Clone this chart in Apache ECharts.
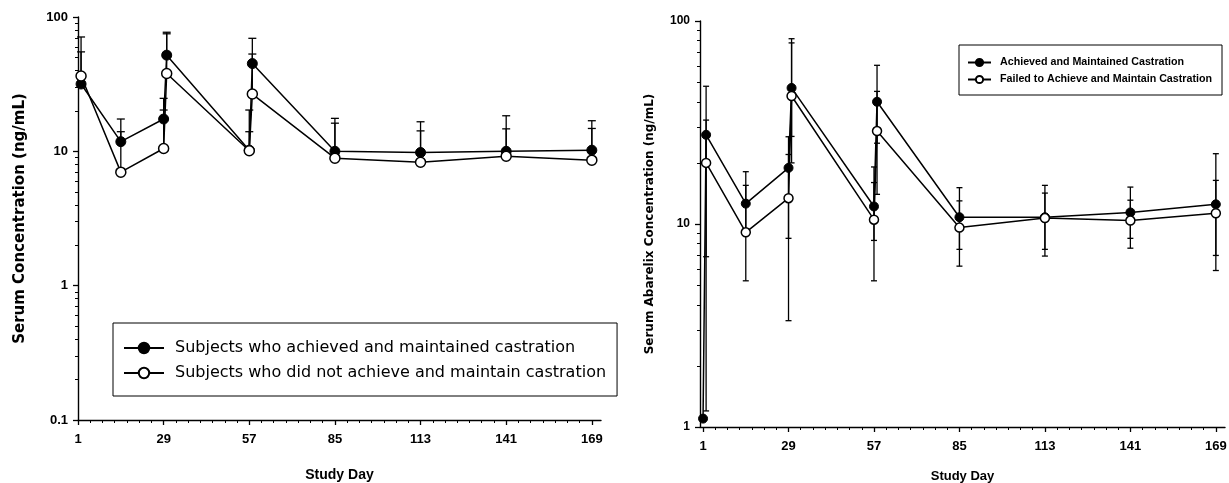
<!DOCTYPE html>
<html>
<head>
<meta charset="utf-8">
<script src="https://cdn.jsdelivr.net/npm/echarts@6/dist/echarts.min.js"></script>
<style>
  html, body { margin: 0; padding: 0; background: #fff; }
  #main { width: 1229px; height: 483px; }
</style>
</head>
<body>
<div id="main"></div>
<script>
// ---- left panel: serum concentration ----
var leftNames = ['Subjects who achieved and maintained castration',
                 'Subjects who did not achieve and maintain castration'];
var leftDays = [2, 15, 29, 30, 57, 58, 85, 113, 141, 169];
var leftAchieved = [31.7, 11.8, 17.4, 52, 10.2, 45, 10.0, 9.8, 10.0, 10.2];
var leftFailed = [36.4, 7.0, 10.5, 38, 10.1, 26.7, 8.9, 8.3, 9.2, 8.6];
var leftAchievedUp = [71, 17.4, 24.8, 77, 20.3, 69.4, 17.6, 16.6, 18.4, 16.9];
var leftFailedUp = [55, 14.0, 20.3, 75, 14.0, 53, 16.2, 14.2, 14.7, 14.8];

// ---- right panel: serum abarelix concentration ----
var rightNames = ['Achieved and Maintained Castration',
                  'Failed to Achieve and Maintain Castration'];
var rightDaysA = [1, 2, 15, 29, 30, 57, 58, 85, 113, 141, 169];
var rightAchieved = [1.1, 27.5, 12.6, 18.9, 46.8, 12.2, 40, 10.8, 10.8, 11.4, 12.5];
var rightAchievedLo = [1.1, 1.2, 8.8, 8.5, 27, 8.3, 25, 7.5, 7.5, 8.5, 7.0];
var rightAchievedUp = [1.1, 47.7, 18.1, 26.9, 81.8, 19.1, 60.5, 15.1, 15.5, 15.2, 22.2];
var rightDaysF = [2, 15, 29, 30, 57, 58, 85, 113, 141, 169];
var rightFailed = [20, 9.1, 13.4, 42.7, 10.5, 28.7, 9.6, 10.7, 10.4, 11.3];
var rightFailedLo = [6.9, 5.25, 3.34, 20, 5.25, 14, 6.2, 6.95, 7.6, 5.9];
var rightFailedUp = [32.5, 15.5, 22, 78, 16, 45, 13, 14.2, 13.1, 16.4];

// ---- axis ticks ----
var dayTicks = [1, 29, 57, 85, 113, 141, 169];
var leftYTicks = [0.1, 1, 10, 100];
var rightYTicks = [1, 10, 100];

function minorDays(start, end) {
    var arr = [];
    for (var d = start; d <= end; d += 4) arr.push(d);
    return arr;
}
function minorLog(lo, hi) {
    var arr = [];
    for (var p = lo; p < hi; p *= 10) {
        for (var k = 2; k <= 9; k++) arr.push(+(k * p).toPrecision(3));
    }
    return arr;
}

var font = 'Liberation Sans, Arial, sans-serif';
var wideFont = 'DejaVu Sans, Verdana, sans-serif';

function pairs(xs, ys) {
    return xs.map(function (x, i) { return [x, ys[i]]; });
}
function bars(xs, lo, hi) {
    return xs.map(function (x, i) { return [x, lo[i], hi[i]]; });
}

function errBar(capW, lowCap) {
    return function (params, api) {
        var x = api.value(0);
        var pLo = api.coord([x, api.value(1)]);
        var pHi = api.coord([x, api.value(2)]);
        var st = { stroke: '#000', lineWidth: 1.3 };
        var kids = [
            { type: 'line', shape: { x1: pHi[0], y1: pHi[1], x2: pLo[0], y2: pLo[1] }, style: st },
            { type: 'line', shape: { x1: pHi[0] - capW, y1: pHi[1], x2: pHi[0] + capW, y2: pHi[1] }, style: st }
        ];
        if (lowCap) {
            kids.push({ type: 'line', shape: { x1: pLo[0] - capW, y1: pLo[1], x2: pLo[0] + capW, y2: pLo[1] }, style: st });
        }
        return { type: 'group', children: kids };
    };
}

function xAxisMajor(grid, min, max, margin, name, gap, nameSize, lblSize) {
    return {
        type: 'value', gridIndex: grid, min: min, max: max,
        name: name, nameLocation: 'middle', nameGap: gap,
        nameTextStyle: { fontFamily: font, fontWeight: 'bold', fontSize: nameSize, color: '#000' },
        axisLine: { show: true, onZero: false, lineStyle: { color: '#000', width: 1.4 } },
        axisTick: { show: true, length: 5, customValues: dayTicks, lineStyle: { color: '#000', width: 1.3 } },
        axisLabel: { customValues: dayTicks, margin: margin, fontFamily: font, fontWeight: 'bold', fontSize: lblSize, color: '#000' },
        splitLine: { show: false }
    };
}
function xAxisMinor(grid, min, max, start) {
    return {
        type: 'value', gridIndex: grid, min: min, max: max, position: 'bottom',
        axisLine: { show: false },
        axisTick: { show: true, length: 3, customValues: minorDays(start, 169), lineStyle: { color: '#000', width: 1 } },
        axisLabel: { show: false },
        splitLine: { show: false }
    };
}
function yAxisMajor(grid, min, max, ticks, name, gap, nameSize, lblSize) {
    return {
        type: 'log', logBase: 10, gridIndex: grid, min: min, max: max,
        name: name, nameLocation: 'middle', nameGap: gap,
        nameTextStyle: { fontFamily: wideFont, fontWeight: 'bold', fontSize: nameSize, color: '#000' },
        axisLine: { show: true, onZero: false, lineStyle: { color: '#000', width: 1.4 } },
        axisTick: { show: true, length: 5, customValues: ticks, lineStyle: { color: '#000', width: 1.3 } },
        axisLabel: { customValues: ticks, margin: 10, fontFamily: font, fontWeight: 'bold', fontSize: lblSize, color: '#000',
                     formatter: function (v) { return String(+v.toPrecision(3)); } },
        splitLine: { show: false }
    };
}
function yAxisMinor(grid, min, max) {
    return {
        type: 'log', logBase: 10, gridIndex: grid, min: min, max: max, position: 'left',
        axisLine: { show: false },
        axisTick: { show: true, length: 3, customValues: minorLog(min, max), lineStyle: { color: '#000', width: 1 } },
        axisLabel: { show: false },
        splitLine: { show: false }
    };
}

var chartDom = document.getElementById('main');
var myChart = echarts.init(chartDom, null, { renderer: 'canvas' });

var filledStyle = { color: '#000', borderColor: '#000', borderWidth: 1 };
var openStyle = { color: '#fff', borderColor: '#000', borderWidth: 1.5 };
var lineSt = { color: '#000', width: 1.5 };

var option = {
    backgroundColor: '#fff',
    animation: false,
    textStyle: { fontFamily: font },
    grid: [
        { left: 78, top: 17, width: 523, height: 403, outerBoundsMode: 'none', containLabel: false },
        { left: 700, top: 21, width: 525, height: 406, outerBoundsMode: 'none', containLabel: false }
    ],
    xAxis: [
        xAxisMajor(0, 1, 172, 13, 'Study Day', 48, 14, 13),
        xAxisMinor(0, 1, 172, 1),
        xAxisMajor(1, 0, 172, 13, 'Study Day', 43, 13, 13),
        xAxisMinor(1, 0, 172, 1)
    ],
    yAxis: [
        yAxisMajor(0, 0.1, 100, leftYTicks, 'Serum Concentration (ng/mL)', 50, 15, 13),
        yAxisMinor(0, 0.1, 100),
        yAxisMajor(1, 1, 100, rightYTicks, 'Serum Abarelix Concentration (ng/mL)', 44, 12, 12),
        yAxisMinor(1, 1, 100)
    ],
    legend: [
        {
            data: leftNames, orient: 'vertical', left: 113, top: 323,
            itemWidth: 40, itemHeight: 13, itemGap: 9,
            padding: [17, 11, 15, 10],
            borderColor: '#000', borderWidth: 1, borderRadius: 0,
            textStyle: { fontFamily: wideFont, fontSize: 16, color: '#000', padding: [0, 0, 0, 6] }
        },
        {
            data: rightNames, orient: 'vertical', left: 959, top: 45,
            itemWidth: 23, itemHeight: 9, itemGap: 6,
            padding: [12, 10, 10, 8],
            borderColor: '#000', borderWidth: 1, borderRadius: 0,
            textStyle: { fontFamily: font, fontSize: 10.7, fontWeight: 'bold', color: '#000', padding: [0, 0, 0, 4] }
        }
    ],
    series: [
        {
            type: 'custom', xAxisIndex: 0, yAxisIndex: 0, z: 1, silent: true,
            renderItem: errBar(4, false), encode: { x: 0, y: [1, 2] },
            data: bars(leftDays, leftAchieved, leftAchievedUp)
        },
        {
            type: 'custom', xAxisIndex: 0, yAxisIndex: 0, z: 1, silent: true,
            renderItem: errBar(4, false), encode: { x: 0, y: [1, 2] },
            data: bars(leftDays, leftFailed, leftFailedUp)
        },
        {
            name: leftNames[0], type: 'line', xAxisIndex: 0, yAxisIndex: 0, z: 3,
            symbol: 'circle', symbolSize: 10, lineStyle: lineSt, itemStyle: filledStyle,
            data: pairs(leftDays, leftAchieved)
        },
        {
            name: leftNames[1], type: 'line', xAxisIndex: 0, yAxisIndex: 0, z: 4,
            symbol: 'circle', symbolSize: 10, lineStyle: lineSt, itemStyle: openStyle,
            data: pairs(leftDays, leftFailed)
        },
        {
            type: 'custom', xAxisIndex: 2, yAxisIndex: 2, z: 1, silent: true,
            renderItem: errBar(3, true), encode: { x: 0, y: [1, 2] },
            data: bars(rightDaysA, rightAchievedLo, rightAchievedUp)
        },
        {
            type: 'custom', xAxisIndex: 2, yAxisIndex: 2, z: 1, silent: true,
            renderItem: errBar(3, true), encode: { x: 0, y: [1, 2] },
            data: bars(rightDaysF, rightFailedLo, rightFailedUp)
        },
        {
            name: rightNames[0], type: 'line', xAxisIndex: 2, yAxisIndex: 2, z: 3,
            symbol: 'circle', symbolSize: 9, lineStyle: lineSt, itemStyle: filledStyle,
            data: pairs(rightDaysA, rightAchieved)
        },
        {
            name: rightNames[1], type: 'line', xAxisIndex: 2, yAxisIndex: 2, z: 4,
            symbol: 'circle', symbolSize: 9, lineStyle: lineSt, itemStyle: openStyle,
            data: pairs(rightDaysF, rightFailed)
        }
    ]
};

option && myChart.setOption(option);
</script>
</body>
</html>
